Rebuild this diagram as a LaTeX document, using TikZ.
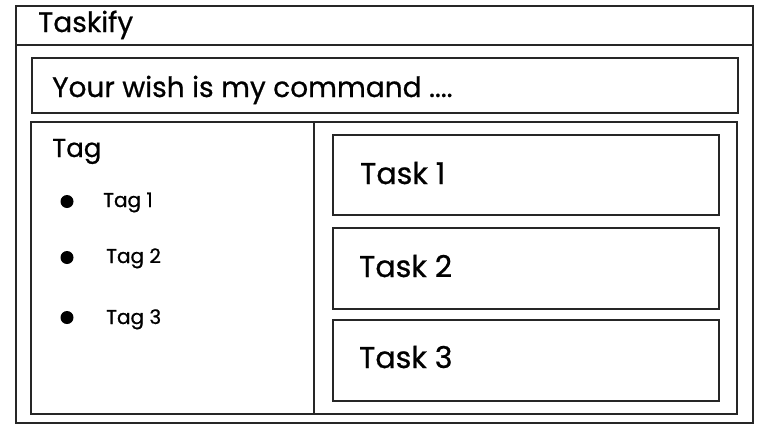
\documentclass[tikz,border=0pt]{standalone}
\usepackage{fontspec}
\setmainfont{Poppins}[FakeBold=0.7,UprightFeatures={FakeBold=0.7}]
\begin{document}
\begin{tikzpicture}[x=1pt,y=-1pt,
  frame/.style={draw=black!85,line width=1.6pt,inner sep=0pt,anchor=north west},
  txt/.style={anchor=base west,inner sep=0pt,text=black},
  big/.style={txt,font=\fontsize{28}{30}\selectfont},
  task/.style={txt,font=\fontsize{30}{32}\selectfont},
  mid/.style={txt,font=\fontsize{26}{28}\selectfont},
  head/.style={txt,font=\fontsize{28}{30}\selectfont},
  small/.style={txt,font=\fontsize{20}{22}\selectfont},
  dot/.style={circle,fill=black,inner sep=0pt,minimum size=13pt}]
\useasboundingbox (0,0) rectangle (763,434);
\node[frame,minimum width=737pt,minimum height=417pt] (outer) at (15,5) {};
\coordinate (hl) at (15,45);
\coordinate (hr) at (752,45);
\draw[black!85,line width=1.6pt] (hl) -- (hr);
\node[head] (title) at (38,32) {Taskify};
\node[frame,minimum width=706pt,minimum height=55pt] (search) at (31,57) {};
\node[big] (cmd) at (52,97) {Your wish is my command ....};
\node[frame,minimum width=706pt,minimum height=292pt] (content) at (30,121) {};
\coordinate (dt) at (314,121);
\coordinate (db) at (314,413);
\draw[black!85,line width=1.6pt] (dt) -- (db);
\node[mid] (tag) at (52,157) {Tag};
\node[dot] (b1) at (67,201.5) {};
\node[dot] (b2) at (67,257.5) {};
\node[dot] (b3) at (67,317.5) {};
\node[small] (t1) at (103,207) {Tag 1};
\node[small] (t2) at (106,263) {Tag 2};
\node[small] (t3) at (106,324) {Tag 3};
\node[frame,minimum width=386pt,minimum height=80pt] (task1) at (332,134) {};
\node[frame,minimum width=386pt,minimum height=81pt] (task2) at (332,227) {};
\node[frame,minimum width=386pt,minimum height=81pt] (task3) at (332,319) {};
\node[task] (k1) at (360,184) {Task 1};
\node[task] (k2) at (359,277) {Task 2};
\node[task] (k3) at (359,368) {Task 3};
\end{tikzpicture}
\end{document}
